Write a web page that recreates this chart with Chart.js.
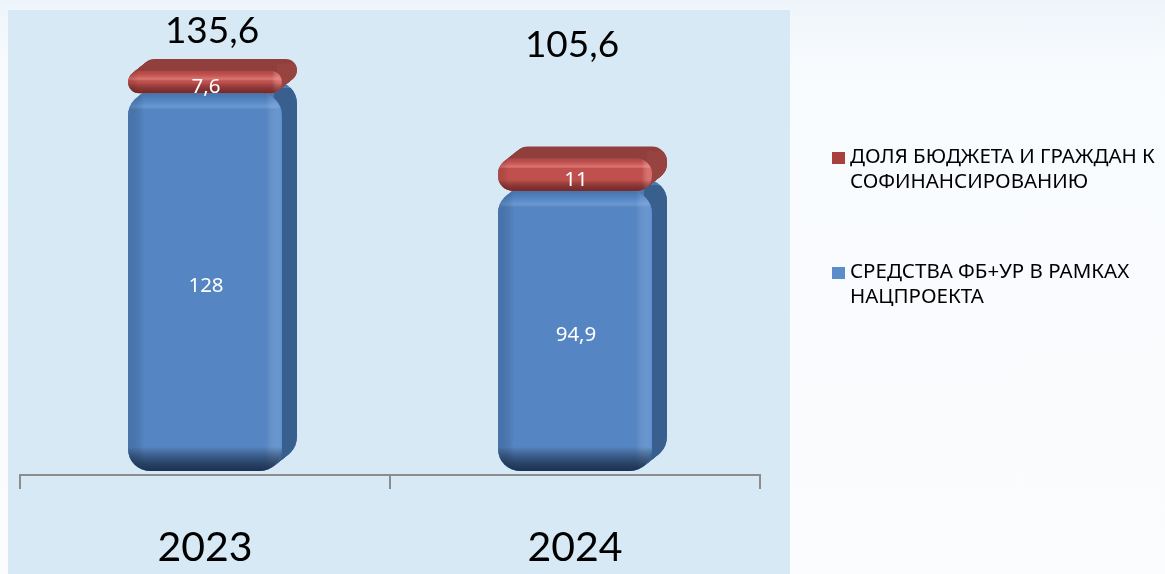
<!DOCTYPE html>
<html lang="ru">
<head>
<meta charset="utf-8">
<title>Финансирование</title>
<script src="https://cdn.jsdelivr.net/npm/chart.js@4"></script>
<style>
    html, body { margin: 0; padding: 0; width: 1165px; height: 574px; overflow: hidden; }
    body { background: linear-gradient(180deg, #eef5fa 0, #f8fbfe 70px, #fbfcfe 100%); position: relative; }
    #panel { position: absolute; left: 8px; top: 10px; width: 782px; height: 564px; background: #d6e9f5; }
    #energyChart { position: absolute; left: 0; top: 0; }
</style>
</head>
<body>
<div id="panel"></div>
<canvas id="energyChart" width="1165" height="574"></canvas>
<script>
// Dados do gráfico
const years = ['2023', '2024'];
const federalValues = [128, 94.9];
const shareValues = [7.6, 11];
const totalLabels = ['135,6', '105,6'];
const federalLabels = ['128', '94,9'];
const shareLabels = ['7,6', '11'];
const federalName = ['СРЕДСТВА ФБ+УР В РАМКАХ', 'НАЦПРОЕКТА'];
const shareName = ['ДОЛЯ БЮДЖЕТА И ГРАЖДАН К', 'СОФИНАНСИРОВАНИЮ'];

const depthX = 15;
const depthY = 12;

function barBox(el) {
    return { x: el.x - el.width / 2, y: el.y, w: el.width, h: el.base - el.y };
}

// Parte de trás da barra (topo e lado direito)
function drawDepth(ctx, el, radius, topColor, sideColor) {
    const b = barBox(el);
    ctx.save();
    ctx.fillStyle = topColor;
    for (let i = 0; i <= depthX; i++) {
        ctx.beginPath();
        ctx.roundRect(b.x + i, b.y - i * depthY / depthX, b.w, b.h, radius);
        ctx.fill();
    }
    ctx.restore();
    ctx.save();
    ctx.beginPath();
    ctx.rect(b.x + b.w - radius * 0.35, b.y - depthY + radius * 0.3, depthX + radius, b.h + depthY);
    ctx.clip();
    ctx.fillStyle = sideColor;
    for (let i = 0; i <= depthX; i++) {
        ctx.beginPath();
        ctx.roundRect(b.x + i, b.y - i * depthY / depthX, b.w, b.h, radius);
        ctx.fill();
    }
    ctx.restore();
}

// Chanfro da frente da barra
function drawBevel(ctx, el, radius, band, light, dark, bottomBand, bottomDark) {
    const b = barBox(el);
    ctx.save();
    ctx.beginPath();
    ctx.roundRect(b.x, b.y, b.w, b.h, radius);
    ctx.clip();

    let g = ctx.createLinearGradient(0, b.y, 0, b.y + band);
    g.addColorStop(0, dark);
    g.addColorStop(0.7, light);
    g.addColorStop(1, 'rgba(255,255,255,0)');
    ctx.fillStyle = g;
    ctx.fillRect(b.x, b.y, b.w, band);

    g = ctx.createLinearGradient(b.x, 0, b.x + band, 0);
    g.addColorStop(0, dark);
    g.addColorStop(1, 'rgba(0,0,0,0)');
    ctx.fillStyle = g;
    ctx.fillRect(b.x, b.y, band, b.h);

    g = ctx.createLinearGradient(b.x + b.w - band, 0, b.x + b.w, 0);
    g.addColorStop(0, 'rgba(255,255,255,0)');
    g.addColorStop(1, light);
    ctx.fillStyle = g;
    ctx.fillRect(b.x + b.w - band, b.y, band, b.h);

    g = ctx.createLinearGradient(0, b.y + b.h - bottomBand, 0, b.y + b.h);
    g.addColorStop(0, 'rgba(0,0,0,0)');
    g.addColorStop(1, bottomDark);
    ctx.fillStyle = g;
    ctx.fillRect(b.x, b.y + b.h - bottomBand, b.w, bottomBand);
    ctx.restore();
}

const barShapes = {
    id: 'barShapes',
    // o Chart.js só arredonda as pontas da pilha, aqui queremos todos os cantos
    afterDatasetsUpdate(chart) {
        chart.data.datasets.forEach(function (ds, i) {
            chart.getDatasetMeta(i).data.forEach(function (el) {
                el.enableBorderRadius = true;
            });
        });
    },
    beforeDatasetsDraw(chart) {
        const ctx = chart.ctx;
        chart.getDatasetMeta(0).data.forEach(function (el) {
            drawDepth(ctx, el, 22, '#4a7bb3', '#395f8e');
        });
        chart.getDatasetMeta(1).data.forEach(function (el) {
            drawDepth(ctx, el, 15, '#913f3c', '#974340');
        });
    },
    afterDatasetsDraw(chart) {
        const ctx = chart.ctx;
        chart.getDatasetMeta(0).data.forEach(function (el) {
            drawBevel(ctx, el, 22, 16, 'rgba(110,165,230,0.4)', 'rgba(40,75,120,0.3)', 24, 'rgba(20,40,70,0.9)');
        });
        chart.getDatasetMeta(1).data.forEach(function (el) {
            drawBevel(ctx, el, 15, 10, 'rgba(240,120,115,0.6)', 'rgba(130,50,50,0.25)', 11, 'rgba(90,25,25,0.7)');
        });
    }
};

// Rótulos de valores, totais e legenda
const textLabels = {
    id: 'textLabels',
    afterDraw(chart) {
        const ctx = chart.ctx;
        const xScale = chart.scales.x;
        ctx.save();
        ctx.textAlign = 'center';
        ctx.textBaseline = 'middle';

        ctx.fillStyle = '#ffffff';
        ctx.font = '20.5px "Noto Sans"';
        chart.getDatasetMeta(0).data.forEach(function (el, i) {
            ctx.fillText(federalLabels[i], el.x + 1, (el.y + el.base) / 2 + 4);
        });
        chart.getDatasetMeta(1).data.forEach(function (el, i) {
            ctx.fillText(shareLabels[i], el.x + 1, (el.y + el.base) / 2 + 5);
        });

        ctx.fillStyle = '#000000';
        ctx.font = '37px Lato';
        ctx.fillText(totalLabels[0], xScale.getPixelForValue(0) + 7, 31);
        ctx.fillText(totalLabels[1], xScale.getPixelForValue(1) - 3, 45);

        ctx.textAlign = 'left';
        ctx.font = '20.5px "Noto Sans"';
        const rows = [
            { y: 157, lines: shareName, color: '#a8413e' },
            { y: 272, lines: federalName, color: '#5b8dcb' }
        ];
        rows.forEach(function (row) {
            ctx.fillStyle = row.color;
            ctx.fillRect(832, row.y - 5, 13, 12);
            ctx.fillStyle = '#000000';
            row.lines.forEach(function (line, n) {
                ctx.fillText(line, 850, row.y + n * 25);
            });
        });
        ctx.restore();
    }
};

new Chart(document.getElementById('energyChart').getContext('2d'), {
    type: 'bar',
    data: {
        labels: years,
        datasets: [
            { label: federalName.join(' '), data: federalValues, backgroundColor: '#5585c2', borderRadius: 22, borderSkipped: false },
            { label: shareName.join(' '), data: shareValues, backgroundColor: '#c0504d', borderRadius: 15, borderSkipped: false }
        ]
    },
    options: {
        responsive: false,
        animation: false,
        devicePixelRatio: 1,
        layout: { padding: { left: 20, right: 405, top: 11, bottom: 0 } },
        categoryPercentage: 1,
        barPercentage: 0.416,
        plugins: { legend: { display: false }, tooltip: { enabled: false } },
        scales: {
            y: { display: false, stacked: true, min: -1.36, max: 155.9 },
            x: {
                stacked: true,
                afterFit(scale) { scale.height = 99; },
                border: { color: '#8c8c8c', width: 2 },
                grid: { offset: true, drawOnChartArea: false, color: '#8c8c8c', lineWidth: 2, tickLength: 14 },
                ticks: { color: '#000000', font: { family: 'Lato', size: 41 }, padding: 34, maxRotation: 0 }
            }
        }
    },
    plugins: [barShapes, textLabels]
});
</script>
</body>
</html>
